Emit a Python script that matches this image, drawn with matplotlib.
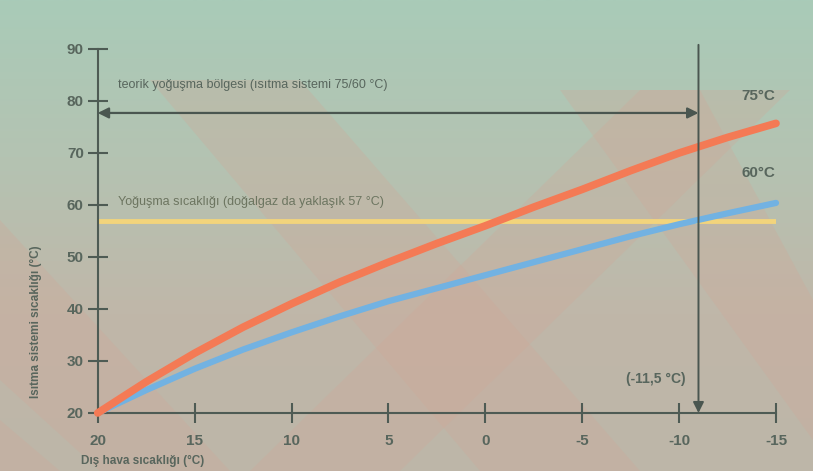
import numpy as np
import matplotlib.pyplot as plt
from matplotlib.patches import Polygon
from matplotlib.colors import LinearSegmentedColormap

# Değerler
dis_hava = [20, 17.5, 15, 12.5, 10, 7.5, 5, 2.5, 0, -2.5, -5, -7.5, -10, -12.5, -15]
sistem_75 = [20, 26.0, 31.5, 36.5, 41, 45.2, 49, 52.6, 56, 59.6, 63, 66.6, 70, 73, 75.7]
sistem_60 = [20, 24.4, 28.5, 32.2, 35.5, 38.6, 41.5, 44, 46.5, 49, 51.5, 54, 56.3, 58.4, 60.4]
yogusma_sicakligi = 57
tasarim_sicakligi = -11.0
bolge_ok_y = 77.7
x_ticks = [20, 15, 10, 5, 0, -5, -10, -15]
y_ticks = [20, 30, 40, 50, 60, 70, 80, 90]

yazi_rengi = '#58665d'
plt.rcParams['font.family'] = ['Liberation Sans', 'DejaVu Sans']
plt.rcParams['axes.unicode_minus'] = False

fig = plt.figure(figsize=(8.13, 4.71), dpi=100)
W, H = 813, 471

# arka plan: üstte yeşilimsi, altta pembemsi (taranmış sayfa)
bg = fig.add_axes([0, 0, 1, 1], zorder=0)
bg.set_axis_off()
cmap = LinearSegmentedColormap.from_list('kagit', ['#bdb6a8', '#c0b7a9', '#b4c3b2', '#a9cbb8'])
bg.imshow(np.linspace(0, 1, 256).reshape(-1, 1), cmap=cmap, aspect='auto',
          extent=[0, 1, 0, 1], origin='lower')
bg.set_xlim(0, 1)
bg.set_ylim(0, 1)
bantlar = [
    [(150, 80), (300, 80), (640, 471), (480, 471)],
    [(640, 90), (790, 90), (400, 471), (250, 471)],
    [(560, 90), (700, 90), (813, 300), (813, 440)],
    [(0, 220), (0, 380), (100, 471), (230, 471)],
    [(0, 420), (0, 471), (60, 471)],
]
for b in bantlar:
    pts = [(x / W, 1 - y / H) for x, y in b]
    bg.add_patch(Polygon(pts, closed=True, facecolor='#d0a898',
                         edgecolor='none', alpha=0.3))

ax = fig.add_axes([97.7 / W, 1 - 413 / H, (776 - 97.7) / W, (413 - 49) / H])
ax.set_zorder(2)
ax.set_facecolor('none')
ax.set_xlim(20, -15)
ax.set_ylim(20, 90)

for s in ['top', 'right']:
    ax.spines[s].set_visible(False)
for s in ['left', 'bottom']:
    ax.spines[s].set_color('#4e5b54')
    ax.spines[s].set_linewidth(1.5)

ax.set_xticks(x_ticks)
ax.set_yticks(y_ticks)
ax.tick_params(direction='inout', length=14, width=1.5, color='#4e5b54',
               labelcolor=yazi_rengi, labelsize=11)
ax.tick_params(axis='y', pad=3)
ax.tick_params(axis='x', pad=8)
for lab in ax.get_xticklabels() + ax.get_yticklabels():
    lab.set_fontweight('bold')

# yoğuşma sıcaklığı çizgisi
ax.plot([x_ticks[0], x_ticks[-1]], [yogusma_sicakligi, yogusma_sicakligi],
        color='#f2d47c', lw=3.5, solid_capstyle='butt', zorder=2)

# eğriler
ax.plot(dis_hava, sistem_60, color='#72b2e2', lw=4.5, solid_capstyle='round',
        clip_on=False, zorder=3)
ax.plot(dis_hava, sistem_75, color='#f47a55', lw=5.5, solid_capstyle='round',
        clip_on=False, zorder=4)

# dikey ok (tasarım sıcaklığı)
ax.annotate('', xy=(tasarim_sicakligi, 20), xytext=(tasarim_sicakligi, 90.8),
            arrowprops=dict(arrowstyle='-|>', color='#4a5650', lw=1.4,
                            mutation_scale=16, shrinkA=0, shrinkB=0),
            annotation_clip=False, zorder=5)
# yatay çift yönlü ok
ax.annotate('', xy=(20, bolge_ok_y), xytext=(tasarim_sicakligi, bolge_ok_y),
            arrowprops=dict(arrowstyle='<|-|>', color='#4a5650', lw=1.6,
                            mutation_scale=16, shrinkA=0, shrinkB=0),
            annotation_clip=False, zorder=5)

ax.text(18.95, 83, 'teorik yoğuşma bölgesi (ısıtma sistemi 75/60 °C)',
        fontsize=9, color=yazi_rengi, va='center', ha='left')
ax.text(18.95, 60.6, 'Yoğuşma sıcaklığı (doğalgaz da yaklaşık 57 °C)',
        fontsize=9, color='#6c7560', va='center', ha='left')
ax.text(-14.1, 81, '75°C', fontsize=11, fontweight='bold', color=yazi_rengi,
        ha='center', va='center')
ax.text(-14.1, 66.2, '60°C', fontsize=11, fontweight='bold', color=yazi_rengi,
        ha='center', va='center')
ax.text(-8.8, 26.5, '(-11,5 °C)', fontsize=10, fontweight='bold',
        color=yazi_rengi, ha='center', va='center')

fig.text(36 / W, 1 - 322 / H, 'Isıtma sistemi sıcaklığı (°C)', rotation=90,
         fontsize=8.5, fontweight='bold', color=yazi_rengi, ha='center', va='center')
fig.text(81 / W, 1 - 461 / H, 'Dış hava sıcaklığı (°C)', fontsize=8.5,
         fontweight='bold', color=yazi_rengi, ha='left', va='center')

plt.savefig('out.png', dpi=100)
